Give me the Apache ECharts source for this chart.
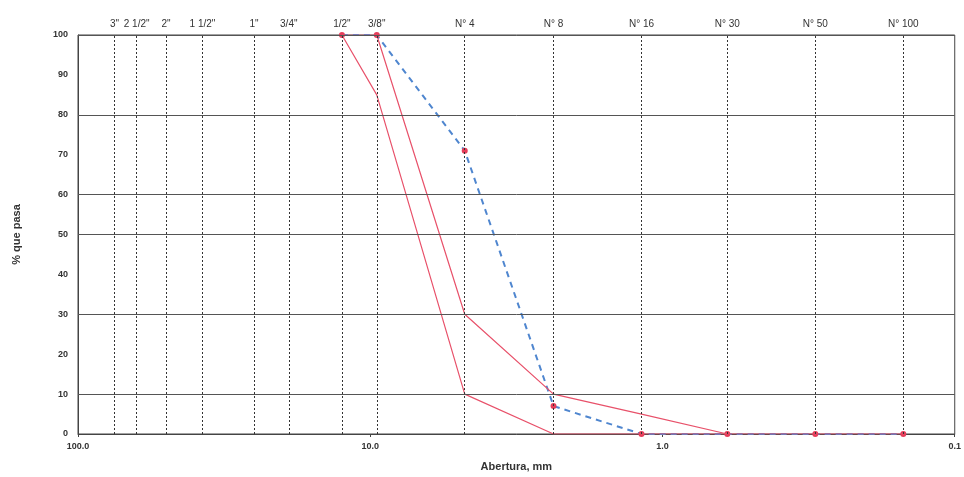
<!DOCTYPE html>
<html>
<head>
<meta charset="utf-8">
<script src="https://cdn.jsdelivr.net/npm/echarts@6/dist/echarts.min.js"></script>
<style>
  html, body { margin: 0; padding: 0; background: #fff; }
  #chart { width: 964px; height: 477px; }
</style>
</head>
<body>
<div id="chart"></div>
<script>
// Sieve names and openings (mm)
const sieveNames = ['3"', '2 1/2"', '2"', '1 1/2"', '1"', '3/4"', '1/2"', '3/8"', 'N° 4', 'N° 8', 'N° 16', 'N° 30', 'N° 50', 'N° 100'];
const sieveSizes = [75, 63, 50, 37.5, 25, 19, 12.5, 9.5, 4.75, 2.36, 1.18, 0.6, 0.3, 0.15];

// Horizontal reference lines (% que pasa)
const hLines = [10, 30, 50, 60, 80, 100];

// Sample gradation
const sampleSizes = [12.5, 9.5, 4.75, 2.36, 1.18, 0.6, 0.3, 0.15];
const sampleValues = [100, 100, 71, 7, 0, 0, 0, 0];

// Specification limits
const upperSizes = [12.5, 9.5, 4.75, 2.36, 1.18, 0.6];
const upperValues = [100, 100, 30, 10, 5, 0];
const lowerSizes = [12.5, 9.5, 4.75, 2.36, 1.18, 0.6, 0.3, 0.15];
const lowerValues = [100, 85, 10, 0, 0, 0, 0, 0];

const pairs = (xs, ys) => xs.map((x, i) => [x, ys[i]]);

const chart = echarts.init(document.getElementById("chart"));
const fontFamily = "Liberation Sans, Arial, sans-serif";

chart.setOption({
  animation: false,
  grid: {
    left: 78, right: 9, top: 35, bottom: 43,
    show: true, borderColor: "#444", borderWidth: 1,
  },
  xAxis: {
    type: "log",
    logBase: 10,
    min: 0.1,
    max: 100,
    inverse: true,
    name: "Abertura, mm",
    nameLocation: "middle",
    nameGap: 27,
    nameTextStyle: { fontFamily, fontWeight: "bold", fontSize: 11, color: "#333" },
    axisLine: { lineStyle: { color: "#444" } },
    axisTick: { show: true, length: 3, lineStyle: { color: "#444" } },
    splitLine: { show: false },
    axisLabel: {
      fontFamily, fontWeight: "bold", fontSize: 9, color: "#333", margin: 8,
      formatter: (v) => Number(v).toFixed(1),
    },
  },
  yAxis: {
    type: "value",
    min: 0,
    max: 100,
    interval: 10,
    name: "% que pasa",
    nameLocation: "middle",
    nameGap: 56,
    nameTextStyle: { fontFamily, fontWeight: "bold", fontSize: 11, color: "#333" },
    axisLine: { show: true, lineStyle: { color: "#444" } },
    axisTick: { show: false },
    splitLine: { show: false },
    axisLabel: { fontFamily, fontWeight: "bold", fontSize: 9, color: "#333", margin: 10 },
  },
  series: [
    {
      name: "grid",
      type: "line",
      data: [],
      silent: true,
      markLine: {
        silent: true,
        symbol: "none",
        animation: false,
        data: [
          ...sieveSizes.map((s, i) => ({
            xAxis: s,
            lineStyle: { type: [2, 2], color: "#333", width: 1 },
            label: {
              show: true, position: "end", formatter: sieveNames[i],
              fontFamily, fontSize: 10, color: "#333", distance: 6,
            },
          })),
          ...hLines.map((v) => ({
            yAxis: v,
            lineStyle: { type: "solid", color: "#555", width: 1 },
            label: { show: false },
          })),
        ],
      },
    },
    {
      name: "Muestra",
      type: "line",
      data: pairs(sampleSizes, sampleValues),
      symbol: "circle",
      symbolSize: 6,
      z: 3,
      itemStyle: { color: "#e63d5a" },
      lineStyle: { width: 2, color: "#4f86cf", type: [6, 5] },
    },
    {
      name: "Límite inferior",
      type: "line",
      data: pairs(lowerSizes, lowerValues),
      symbol: "none",
      z: 4,
      color: "#e8516a",
      lineStyle: { width: 1.2, color: "#e8516a" },
    },
    {
      name: "Límite superior",
      type: "line",
      data: pairs(upperSizes, upperValues),
      symbol: "none",
      z: 4,
      color: "#e8516a",
      lineStyle: { width: 1.2, color: "#e8516a" },
    },
  ],
});
</script>
</body>
</html>
